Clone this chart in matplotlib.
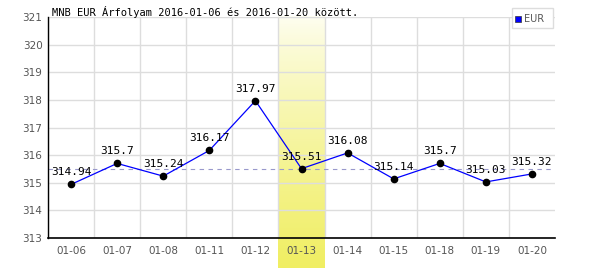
import numpy as np
import matplotlib
matplotlib.use('Agg')
import matplotlib.pyplot as plt
from matplotlib.patches import Rectangle

dates = ['01-06', '01-07', '01-08', '01-11', '01-12', '01-13', '01-14', '01-15', '01-18', '01-19', '01-20']
rates = [314.94, 315.7, 315.24, 316.17, 317.97, 315.51, 316.08, 315.14, 315.7, 315.03, 315.32]
highlight = 5  # 01-13
y_ticks = list(range(313, 322))

fig = plt.figure(figsize=(6, 2.7), dpi=100)
ax = fig.add_axes([0.08, 0.1185, 0.845, 0.8185])
x = np.arange(len(dates))
ax.set_xlim(-0.5, len(dates) - 0.5)
ax.set_ylim(313, 321)

# highlighted day, gradient band reaching below the axis
grad = (np.linspace(0, 1, 256) ** 0.8).reshape(-1, 1)
cmap = matplotlib.colors.LinearSegmentedColormap.from_list('hl', ['#fefef2', '#f0ee62'])
ax.imshow(grad, cmap=cmap, aspect='auto', origin='upper',
          extent=(highlight - 0.5, highlight + 0.5, 311.9, 321), zorder=0, clip_on=False)

ax.set_xticks(x - 0.5, minor=False)
ax.set_xticks(x, minor=True)
ax.grid(True, which='major', axis='x', color='#dddddd', lw=1)
ax.set_yticks(y_ticks)
ax.grid(True, which='major', axis='y', color='#dddddd', lw=1)
ax.set_axisbelow(True)
ax.tick_params(which='both', length=0)
ax.set_xticklabels([], minor=False)
ax.set_xticklabels(dates, minor=True)
ax.tick_params(axis='x', which='minor', labelsize=7.5, labelcolor='#555555', pad=6)
ax.tick_params(axis='y', labelsize=7.5, labelcolor='#555555', pad=4)
for s in ['top', 'right']:
    ax.spines[s].set_visible(False)
ax.spines['left'].set_linewidth(1)
ax.spines['bottom'].set_linewidth(1.2)

ax.axhline(rates[highlight], color='#9999cc', ls=(0, (4, 4)), lw=0.8, zorder=2)
ax.plot(x, rates, color='blue', lw=0.9, zorder=3)
ax.plot(x, rates, 'o', color='black', ms=4.5, zorder=4)
for xi, v in zip(x, rates):
    ax.annotate(f'{v:g}', (xi, v), xytext=(0, 5), textcoords='offset points',
                ha='center', va='bottom', fontsize=8, family='DejaVu Sans Mono', zorder=5)

fig.text(0.087, 0.955, 'MNB EUR Árfolyam 2016-01-06 és 2016-01-20 között.',
         fontsize=7.5, family='DejaVu Sans Mono', va='center', ha='left')

# legend box
fig.patches.append(Rectangle((512 / 600, 1 - 28 / 270), 41 / 600, 20 / 270, transform=fig.transFigure,
                             facecolor='white', edgecolor='#dddddd', lw=1))
fig.patches.append(Rectangle((515 / 600, 1 - 22 / 270), 6 / 600, 6 / 270, transform=fig.transFigure,
                             facecolor='blue', edgecolor='#333333', lw=0.5))
fig.text(524 / 600, 1 - 18.5 / 270, 'EUR', fontsize=7, color='#555555', va='center', ha='left')

fig.savefig('out.png', dpi=100, facecolor='white')
